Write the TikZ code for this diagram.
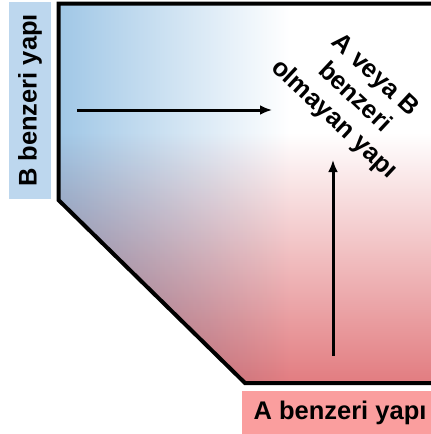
\documentclass[tikz,border=0pt]{standalone}
\usepackage{fontspec}
\setmainfont{Liberation Sans}
\usepackage{xcolor}
\usepackage{tikz}
\usetikzlibrary{arrows,arrows.meta}

\definecolor{boxblue}{RGB}{189,215,238}
\definecolor{boxpink}{RGB}{250,158,158}
\definecolor{shadeblue}{RGB}{160,199,230}
\definecolor{shadered}{RGB}{226,124,128}

\pgfdeclarehorizontalshading{blueright}{100bp}{color(0bp)=(shadeblue); color(25bp)=(shadeblue); color(56bp)=(white); color(100bp)=(white)}
\pgfdeclareverticalshading{redup}{100bp}{color(0bp)=(shadered); color(25bp)=(shadered); color(58bp)=(white); color(100bp)=(white)}

\begin{document}
\begin{tikzpicture}[x=1pt,y=-1pt,
	lbl/.style={font=\fontsize{25.5}{30}\selectfont\bfseries,inner sep=0pt}]
		\useasboundingbox (0,0) rectangle (431,434);
		\coordinate (TR) at (431,3.5);
		\coordinate (TL) at (58.5,3.5);
		\coordinate (ML) at (58.5,200);
		\coordinate (BM) at (245,383);
		\coordinate (BR) at (431,383);
		%
		\shade[shading=blueright] (TR) -- (TL) -- (ML) -- (BM) -- (BR) -- cycle;
		\begin{scope}[blend mode=multiply]
		\shade[shading=redup] (TR) -- (TL) -- (ML) -- (BM) -- (BR) -- cycle;
		\end{scope}
		\draw[line width=4pt] (TR) -- (TL) -- (ML) -- (BM) -- (BR);
		%
		\node[lbl,fill=boxblue,rotate=90,minimum width=197pt,minimum height=42pt] (B) at (30,100.5) {B benzeri yap\i};
		\node[lbl,fill=boxpink,minimum width=196pt,minimum height=43pt] (A) at (340,412.5) {A benzeri yap\i};
		\node[lbl,rotate=-43,align=center] (N) at (354,98) {A veya B\\benzeri\\olmayan yap\i};
		%
		\coordinate (h0) at (77,110);
		\coordinate (h1) at (272,110);
		\coordinate (v0) at (333,356);
		\coordinate (v1) at (333,160);
		\path[->,>={Latex[length=12pt,width=10pt]},line width=3pt]
		(h0) edge (h1)
		(v0) edge (v1);
\end{tikzpicture}
\end{document}
